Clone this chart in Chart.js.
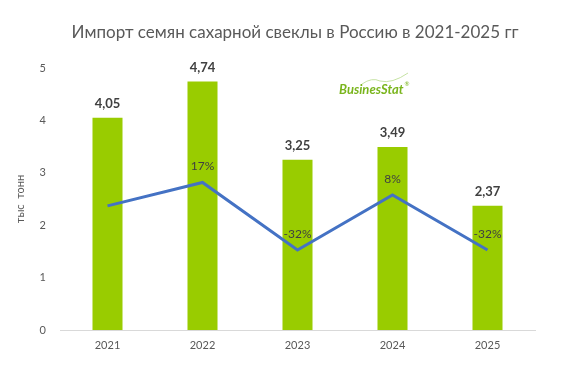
<!DOCTYPE html>
<html>
<head>
<meta charset="utf-8">
<script src="https://cdn.jsdelivr.net/npm/chart.js@4/dist/chart.umd.min.js"></script>
<style>
  html, body { margin: 0; padding: 0; background: #fff; }
  #wrap { width: 582px; height: 374px; }
</style>
</head>
<body>
<div id="wrap"><canvas id="importChart" width="582" height="374"></canvas></div>
<script>
// Import of sugar beet seeds, thousand tonnes + year-over-year change
const years = ['2021', '2022', '2023', '2024', '2025'];
const volumes = [4.05, 4.74, 3.25, 3.49, 2.37];
const growth = [0, 17, -32, 8, -32];
const growthShown = [false, true, true, true, true];
const yTicks = [0, 1, 2, 3, 4, 5];

const FONT = 'Lato, "Open Sans", sans-serif';
const GREY = '#595959';

// title, axis title, logo and value labels
const labelsPlugin = {
  id: 'labels',
  afterDatasetsDraw(chart) {
    const ctx = chart.ctx;
    ctx.save();
    ctx.textAlign = 'center';
    ctx.textBaseline = 'middle';

    // bar values
    const bars = chart.getDatasetMeta(1).data;
    ctx.fillStyle = '#404040';
    ctx.font = 'bold 13px ' + FONT;
    bars.forEach((b, i) => {
      ctx.fillText(volumes[i].toFixed(2).replace('.', ','), b.x, b.y - 14);
    });

    // growth labels
    const pts = chart.getDatasetMeta(0).data;
    ctx.font = '12px ' + FONT;
    pts.forEach((p, i) => {
      if (!growthShown[i]) return;
      ctx.fillText(growth[i] + '%', p.x, p.y - 16);
    });

    // title
    ctx.fillStyle = GREY;
    ctx.font = '17px ' + FONT;
    ctx.fillText('Импорт семян сахарной свеклы в Россию в 2021-2025 гг', 295, 33);

    // y axis title
    const area = chart.chartArea;
    ctx.save();
    ctx.translate(20, (area.top + area.bottom) / 2);
    ctx.rotate(-Math.PI / 2);
    ctx.font = '11px ' + FONT;
    ctx.fillText('тыс  тонн', 0, 0);
    ctx.restore();

    // logo
    ctx.strokeStyle = '#c6e2a4';
    ctx.lineWidth = 1;
    ctx.beginPath();
    ctx.moveTo(362, 84);
    ctx.quadraticCurveTo(372, 77, 380, 81);
    ctx.quadraticCurveTo(392, 84, 408, 73);
    ctx.stroke();
    ctx.fillStyle = '#7ab51d';
    ctx.textAlign = 'left';
    ctx.textBaseline = 'alphabetic';
    ctx.font = 'italic bold 13px ' + FONT;
    ctx.fillText('BusinesStat', 339, 94);
    const w = ctx.measureText('BusinesStat').width;
    ctx.font = '6px ' + FONT;
    ctx.fillText('®', 339 + w + 1, 86);
    ctx.restore();
  }
};

new Chart(document.getElementById('importChart'), {
  data: {
    labels: years,
    datasets: [
      {
        type: 'line',
        label: 'Изменение, %',
        data: growth,
        yAxisID: 'y2',
        borderColor: '#4472c4',
        borderWidth: 3,
        pointRadius: 0,
        tension: 0,
        order: 1
      },
      {
        type: 'bar',
        label: 'Импорт, тыс тонн',
        data: volumes,
        yAxisID: 'y',
        backgroundColor: '#99cc00',
        barPercentage: 0.316,
        categoryPercentage: 1,
        order: 2
      }
    ]
  },
  options: {
    responsive: false,
    animation: false,
    layout: { padding: { top: 68, right: 47, left: 0, bottom: 0 } },
    plugins: { legend: { display: false }, tooltip: { enabled: false } },
    scales: {
      x: {
        grid: { display: false, drawTicks: false },
        border: { display: true, color: '#d9d9d9', width: 1 },
        ticks: { color: GREY, font: { family: FONT, size: 11 }, padding: 9 },
        afterFit(scale) { scale.height = 44; }
      },
      y: {
        min: 0,
        max: 5,
        afterBuildTicks(scale) { scale.ticks = yTicks.map(v => ({ value: v })); },
        grid: { display: false, drawTicks: false },
        border: { display: false },
        ticks: { color: GREY, font: { family: FONT, size: 11 }, padding: 14 },
        afterFit(scale) { scale.width = 60; }
      },
      y2: {
        display: false,
        min: -90,
        max: 100
      }
    }
  },
  plugins: [labelsPlugin]
});
</script>
</body>
</html>
